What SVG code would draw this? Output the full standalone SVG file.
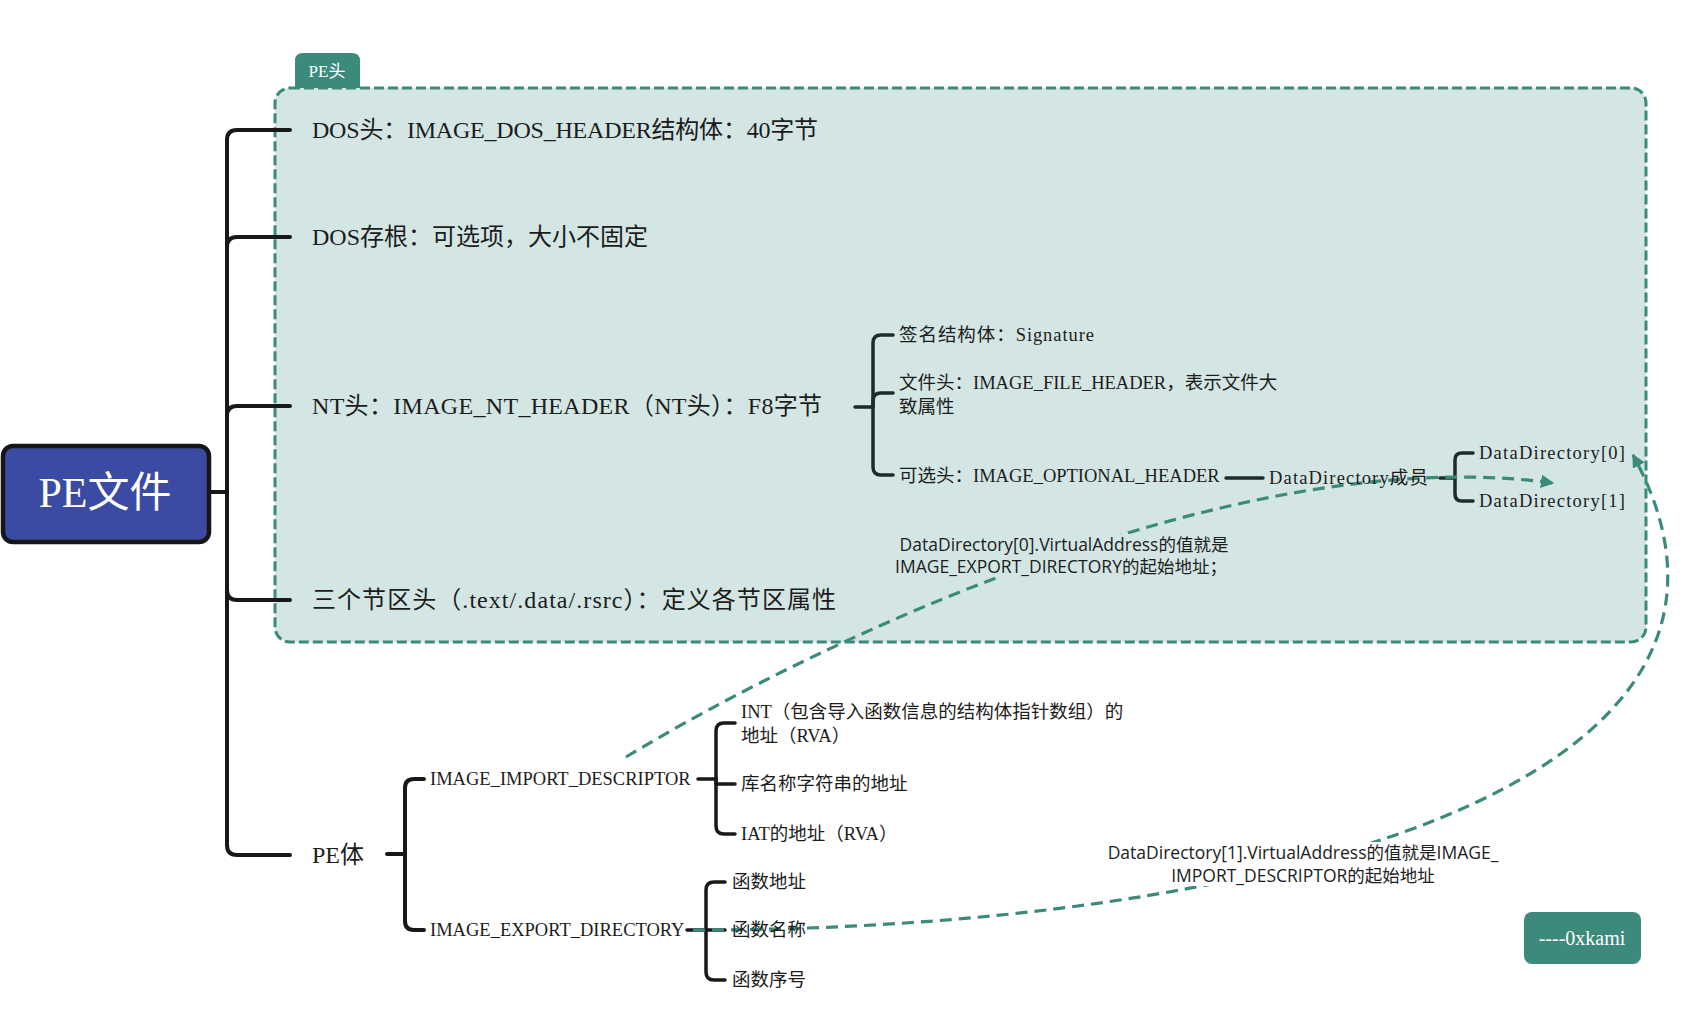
<svg xmlns="http://www.w3.org/2000/svg" width="1702" height="1034" viewBox="0 0 1702 1034">
<defs>
<style>
.t{font-family:'Liberation Serif','Noto Sans CJK SC',serif;fill:#1c1c1c;dominant-baseline:central}
.m{font-size:24px}
.s{font-size:18.5px}
.lb{font-family:'Open Sans','Noto Sans CJK SC',sans-serif;font-size:17.5px;fill:#1c1c1c;text-anchor:middle;dominant-baseline:central}
.w{fill:#ffffff;text-anchor:middle}
.br{fill:none;stroke:#181818;stroke-width:4;stroke-linecap:round;stroke-linejoin:round}
.bi{fill:none;stroke:#1f2b2b;stroke-width:3.5;stroke-linecap:round;stroke-linejoin:round}
.dc{fill:none;stroke:#3b8a7c;stroke-width:3.2;stroke-dasharray:12 7}
</style>
<marker id="arr" viewBox="0 0 10 10" refX="9" refY="5" markerWidth="4.2" markerHeight="4.2" orient="auto" markerUnits="strokeWidth">
<path d="M0,0 L10,5 L0,10 Z" fill="#3b8a7c"/>
</marker>
</defs>
<rect width="1702" height="1034" fill="#ffffff"/>

<g id="pe-header-boundary">
<path d="M295 88 V61 Q295 53 303 53 H352 Q360 53 360 61 V88 Z" fill="#3b8a7b"/>
<text class="t w" x="327" y="71" style="font-size:17px">PE头</text>
<rect x="275" y="88" width="1371" height="554" rx="15" fill="#d3e6e4" stroke="#3b8a7c" stroke-width="3" stroke-dasharray="10 4"/>
</g>

<g id="connectors">
<path class="br" d="M210 492 H227 V140 Q227 130 237 130 H290"/>
<path class="br" d="M227 492 V247 Q227 237 237 237 H290"/>
<path class="br" d="M227 492 V416 Q227 406 237 406 H290"/>
<path class="br" d="M227 492 V590 Q227 600 237 600 H290"/>
<path class="br" d="M227 492 V845 Q227 855 237 855 H290"/>

<path class="bi" d="M855 407 H873"/>
<path class="bi" d="M873 407 V343 Q873 335 881 335 H893"/>
<path class="bi" d="M873 407 V401 Q873 393 881 393 H893"/>
<path class="bi" d="M873 407 V467 Q873 475 881 475 H893"/>

<path class="bi" d="M1226 478 H1263"/>
<path class="bi" d="M1440 478 H1455"/>
<path class="bi" d="M1455 478 V460 Q1455 453 1462 453 H1473"/>
<path class="bi" d="M1455 478 V494 Q1455 501 1462 501 H1473"/>

<path class="br" d="M387 854 H405"/>
<path class="br" d="M405 854 V788 Q405 779 414 779 H424"/>
<path class="br" d="M405 854 V921 Q405 930 414 930 H424"/>

<path class="br" style="stroke-width:3.5" d="M698 779 H716"/>
<path class="br" style="stroke-width:3.5" d="M716 779 V731 Q716 723 724 723 H735"/>
<path class="br" style="stroke-width:3.5" d="M716 779 V784 H735"/>
<path class="br" style="stroke-width:3.5" d="M716 779 V826 Q716 834 724 834 H735"/>

<path class="br" style="stroke-width:3.5" d="M687 930 H706"/>
<path class="br" style="stroke-width:3.5" d="M706 930 V890 Q706 882 714 882 H725"/>
<path class="br" style="stroke-width:3.5" d="M706 930 H725"/>
<path class="br" style="stroke-width:3.5" d="M706 930 V972 Q706 980 714 980 H725"/>

<path id="link-a" class="dc" d="M626 757 C820 640 1240 440 1553 483" marker-end="url(#arr)"/>
<path id="link-b" class="dc" d="M693 930 C1250 930 1815 790 1633 455" marker-end="url(#arr)"/>
</g>

<g id="label-a">
<rect x="895" y="534" width="337" height="43" fill="#d3e6e4"/>
<text class="lb" x="1064" y="544">DataDirectory[0].VirtualAddress的值就是</text>
<text class="lb" x="1061" y="566">IMAGE_EXPORT_DIRECTORY的起始地址；</text>
</g>
<g id="label-b">
<rect x="1107" y="842" width="393" height="44" fill="#ffffff"/>
<text class="lb" x="1303" y="852">DataDirectory[1].VirtualAddress的值就是IMAGE_</text>
<text class="lb" x="1303" y="875">IMPORT_DESCRIPTOR的起始地址</text>
</g>

<g id="root">
<rect x="3" y="446" width="206" height="96" rx="10" fill="#3b4ba3" stroke="#161616" stroke-width="4.5"/>
<text class="t w" x="105" y="493" style="font-size:42px">PE文件</text>
</g>

<g id="dos-header"><text class="t m" x="312" y="130" textLength="506" lengthAdjust="spacing">DOS头：IMAGE_DOS_HEADER结构体：40字节</text></g>
<g id="dos-stub"><text class="t m" x="312" y="237">DOS存根：可选项，大小不固定</text></g>
<g id="nt-header"><text class="t m" x="312" y="406" textLength="510" lengthAdjust="spacing">NT头：IMAGE_NT_HEADER（NT头）：F8字节</text></g>
<g id="section-headers"><text class="t m" x="312" y="600" textLength="524" lengthAdjust="spacing">三个节区头（.text/.data/.rsrc）：定义各节区属性</text></g>
<g id="pe-body"><text class="t m" x="312" y="855">PE体</text></g>

<g id="signature"><text class="t s" x="899" y="335" textLength="195" lengthAdjust="spacing">签名结构体：Signature</text></g>
<g id="file-header"><text class="t s" x="899" y="383">文件头：IMAGE_FILE_HEADER，表示文件大</text><text class="t s" x="899" y="407">致属性</text></g>
<g id="optional-header"><text class="t s" x="899" y="476">可选头：IMAGE_OPTIONAL_HEADER</text></g>
<g id="datadirectory-member"><text class="t s" x="1269" y="478" textLength="159" lengthAdjust="spacing">DataDirectory成员</text></g>
<g id="datadirectory-0"><text class="t s" x="1479" y="453" textLength="146" lengthAdjust="spacing">DataDirectory[0]</text></g>
<g id="datadirectory-1"><text class="t s" x="1479" y="501" textLength="146" lengthAdjust="spacing">DataDirectory[1]</text></g>

<g id="import-descriptor"><text class="t s" x="430" y="779">IMAGE_IMPORT_DESCRIPTOR</text></g>
<g id="export-directory"><text class="t s" x="430" y="930">IMAGE_EXPORT_DIRECTORY</text></g>
<g id="int"><text class="t s" x="741" y="712">INT（包含导入函数信息的结构体指针数组）的</text><text class="t s" x="741" y="736">地址（RVA）</text></g>
<g id="dll-name"><text class="t s" x="741" y="784">库名称字符串的地址</text></g>
<g id="iat"><text class="t s" x="741" y="834">IAT的地址（RVA）</text></g>
<g id="func-address"><text class="t s" x="732" y="882">函数地址</text></g>
<g id="func-name"><text class="t s" x="732" y="930">函数名称</text></g>
<g id="func-ordinal"><text class="t s" x="732" y="980">函数序号</text></g>

<g id="author">
<rect x="1524" y="912" width="117" height="52" rx="8" fill="#3b8a7b"/>
<text class="t w" x="1582" y="938" style="font-size:20px">----0xkami</text>
</g>
</svg>
